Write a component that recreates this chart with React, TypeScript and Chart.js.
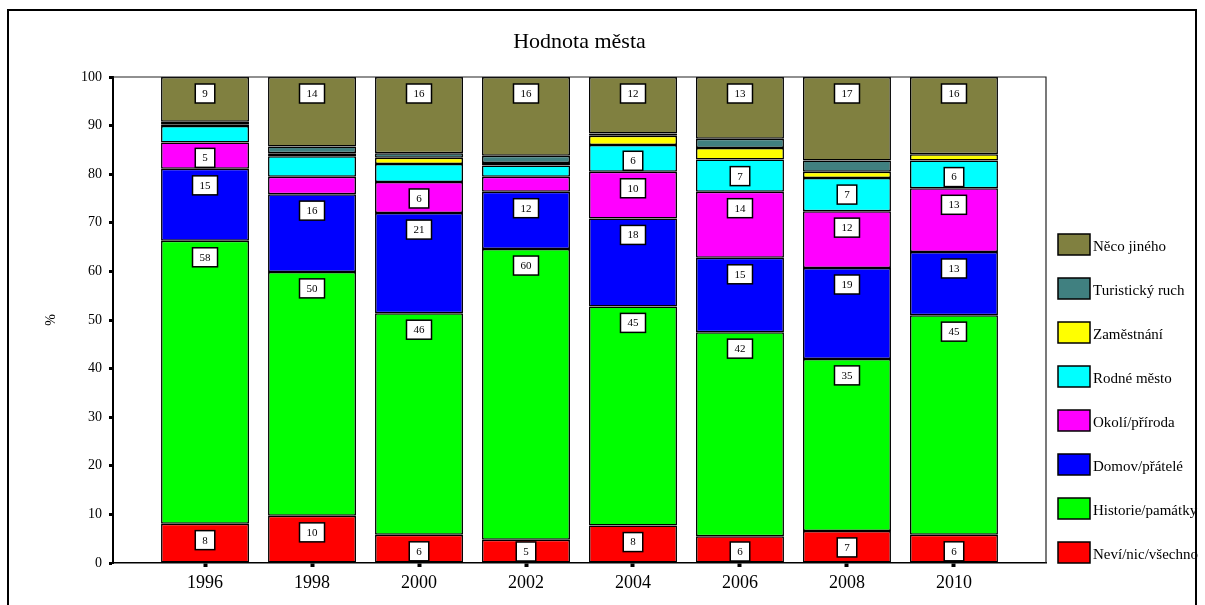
import React, { useEffect, useRef } from "react";
import { Chart, registerables } from "chart.js";

Chart.register(...registerables);

const TITLE = "Hodnota města";
const Y_TITLE = "%";
const years = [1996, 1998, 2000, 2002, 2004, 2006, 2008, 2010];
const seriesNames = [
  "Neví/nic/všechno",
  "Historie/památky",
  "Domov/přátelé",
  "Okolí/příroda",
  "Rodné město",
  "Zaměstnání",
  "Turistický ruch",
  "Něco jiného",
];
const nevi = [8.1, 9.7, 5.8, 4.8, 7.7, 5.5, 6.6, 5.8];
const historie = [58.2, 50.2, 45.6, 59.8, 45.1, 42.0, 35.4, 45.2];
const domov = [14.8, 16.0, 20.6, 11.8, 18.1, 15.3, 18.7, 13.0];
const okoli = [5.4, 3.6, 6.4, 3.1, 9.6, 13.6, 11.7, 13.1];
const rodne = [3.4, 4.2, 3.7, 2.3, 5.5, 6.6, 6.8, 5.7];
const zamestnani = [0.4, 0.6, 1.3, 0.5, 1.9, 2.4, 1.3, 1.3];
const turisticky = [0.5, 1.4, 0.9, 1.5, 0.5, 1.9, 2.3, 0];
const neco = [9.2, 14.3, 15.7, 16.2, 11.6, 12.7, 17.2, 15.9];
const seriesValues = [nevi, historie, domov, okoli, rodne, zamestnani, turisticky, neco];
const seriesColors = ["#FF0000", "#00FF00", "#0000FF", "#FF00FF", "#00FFFF", "#FFFF00", "#408080", "#808040"];

const SERIF = "'Liberation Serif', 'Times New Roman', serif";

const labelsPlugin = {
  id: "segLabels",
  afterDatasetsDraw(chart: any) {
    const ctx = chart.ctx;
    const area = chart.chartArea;
    ctx.save();
    // plot frame (top and right)
    ctx.strokeStyle = "#222";
    ctx.lineWidth = 1.2;
    ctx.beginPath();
    ctx.moveTo(area.left, area.top);
    ctx.lineTo(area.right, area.top);
    ctx.lineTo(area.right, area.bottom);
    ctx.stroke();

    ctx.font = `11px ${SERIF}`;
    ctx.textAlign = "center";
    ctx.textBaseline = "middle";
    chart.data.datasets.forEach((ds: any, i: number) => {
      const meta = chart.getDatasetMeta(i);
      meta.data.forEach((el: any, j: number) => {
        const v = ds.data[j];
        if (v < 4.5) return;
        const txt = String(Math.round(v));
        const tw = ctx.measureText(txt).width;
        const w = tw + 14;
        const h = 19;
        const segTop = Math.min(el.y, el.base);
        const segBottom = Math.max(el.y, el.base);
        const top = Math.min(segTop + 7, segBottom - h - 1.5);
        const x = el.x - w / 2;
        ctx.fillStyle = "#fff";
        ctx.fillRect(x, top, w, h);
        ctx.strokeStyle = "#000";
        ctx.lineWidth = 1.5;
        ctx.strokeRect(x, top, w, h);
        ctx.fillStyle = "#000";
        ctx.fillText(txt, el.x, top + h / 2 + 0.5);
      });
    });
    ctx.restore();
  },
  afterDraw(chart: any) {
    const ctx = chart.ctx;
    const area = chart.chartArea;
    const dsets = chart.data.datasets;
    const n = dsets.length;
    ctx.save();
    ctx.font = `15px ${SERIF}`;
    ctx.textAlign = "left";
    ctx.textBaseline = "middle";
    for (let k = 0; k < n; k++) {
      const ds = dsets[k];
      const boxBottom = area.bottom - k * 44;
      const boxTop = boxBottom - 21;
      const x = area.right + 12;
      ctx.fillStyle = ds.backgroundColor;
      ctx.fillRect(x, boxTop, 32, 21);
      ctx.strokeStyle = "#000";
      ctx.lineWidth = 1.5;
      ctx.strokeRect(x, boxTop, 32, 21);
      ctx.fillStyle = "#000";
      ctx.fillText(ds.label, x + 35, boxTop + 10.5 + 3);
    }
    ctx.restore();
  },
};

export default function App() {
  const ref = useRef<HTMLCanvasElement>(null);
  useEffect(() => {
    if (!ref.current) return;
    const chart = new Chart(ref.current, {
      type: "bar",
      data: {
        labels: years,
        datasets: seriesNames.map((name, i) => ({
          label: name,
          data: seriesValues[i],
          backgroundColor: seriesColors[i],
          borderColor: "#000",
          borderWidth: 1.5,
          borderSkipped: false,
          inflateAmount: 0,
          categoryPercentage: 0.822,
          barPercentage: 1,
        })),
      },
      options: {
        responsive: false,
        animation: false,
        events: [],
        layout: { padding: { left: 37, right: 159, top: 0, bottom: 12 } },
        plugins: {
          legend: { display: false },
          tooltip: { enabled: false },
          title: {
            display: true,
            text: TITLE,
            fullSize: false,
            color: "#000",
            font: { family: SERIF, size: 22, weight: "normal" },
            padding: { top: 29, bottom: 21.6 },
          },
        },
        scales: {
          x: {
            type: "linear",
            stacked: true,
            offset: false,
            min: years[0] - 1.72,
            max: years[years.length - 1] + 1.72,
            afterBuildTicks: (s: any) => {
              s.ticks = years.map((v) => ({ value: v }));
            },
            afterFit: (s: any) => {
              s.height = 30;
            },
            ticks: {
              callback: (v: any) => String(v),
              color: "#000",
              font: { family: SERIF, size: 18 },
              padding: 5,
              maxRotation: 0,
              autoSkip: false,
            },
            grid: {
              display: true,
              drawOnChartArea: false,
              drawTicks: true,
              tickLength: 4,
              tickWidth: 4,
              tickColor: "#000",
              offset: false,
            },
            border: { display: true, color: "#000", width: 1.5 },
          },
          y: {
            stacked: true,
            min: 0,
            max: 100,
            afterFit: (s: any) => {
              s.width = 76;
            },
            ticks: {
              stepSize: 10,
              color: "#000",
              font: { family: SERIF, size: 14 },
              padding: 7,
            },
            grid: {
              display: true,
              drawOnChartArea: false,
              drawTicks: true,
              tickLength: 4,
              tickWidth: 3,
              tickColor: "#000",
            },
            border: { display: true, color: "#000", width: 2 },
            title: {
              display: true,
              text: Y_TITLE,
              color: "#000",
              font: { family: SERIF, size: 14 },
              padding: { top: 6, bottom: 0 },
            },
          },
        },
      } as any,
      plugins: [labelsPlugin],
    });
    return () => chart.destroy();
  }, []);

  return (
    <div style={{ position: "absolute", left: 0, top: 0, width: 1205, height: 605, overflow: "hidden", background: "#fff" }}>
      <div
        style={{
          position: "absolute",
          left: 7,
          top: 9,
          width: 1186,
          height: 640,
          border: "2px solid #000",
        }}
      />
      <canvas ref={ref} width={1205} height={605} style={{ position: "absolute", left: 0, top: 0 }} />
    </div>
  );
}
